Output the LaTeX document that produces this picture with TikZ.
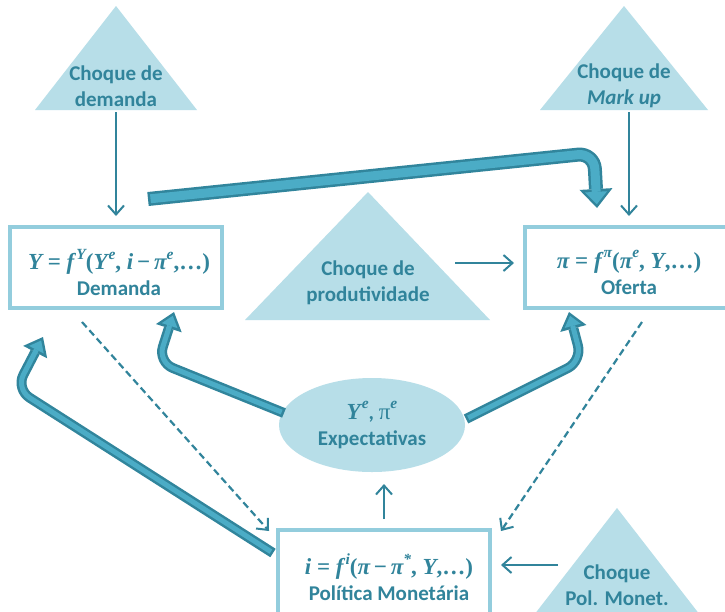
\documentclass[tikz,border=0pt]{standalone}
\usepackage{fontspec}
\setmainfont{Carlito}
\newfontfamily\mf{Liberation Serif}
\usetikzlibrary{arrows.meta,shapes.geometric,calc}
\definecolor{tri}{HTML}{B7DEE8}
\definecolor{txt}{HTML}{31849B}
\definecolor{boxb}{HTML}{93CDDD}
\definecolor{bigf}{HTML}{4BACC6}
\definecolor{bigd}{HTML}{31859C}
\newcommand\vi[1]{{\itshape #1}}
\newcommand\sy[1]{\raisebox{0.45em}{\fontsize{15.5}{16}\selectfont\itshape #1}}
\newcommand\fm{\mf\fontsize{23}{26}\selectfont}
\tikzset{
  lbl/.style={text=txt, font=\bfseries\fontsize{21}{26}\selectfont, align=center, inner sep=0pt},
  trishape/.style={fill=tri, draw=none},
  boxshape/.style={draw=boxb, line width=3.2pt, fill=white, inner sep=0pt},
  thinarrow/.style={draw=txt, line width=2pt, -{Straight Barb[length=9pt,width=16pt,line width=2pt]}},
  dasharrow/.style={thinarrow, line width=2.2pt, dash pattern=on 7pt off 4pt},
}
% fat arrow: #1 path, #2 shaft width, #3 head length, #4 head width, #5 inner head length, #6 inner head width, #7 tip offset
\newcommand\fatarrow[7]{%
  \draw[bigd, line width=#2, rounded corners=16pt, line cap=butt, line join=round,
        -{Triangle[length=#3,width=#4,line width=0pt 0]}] #1;
  \draw[bigf, line width=#2-5pt, rounded corners=16pt, line cap=butt, line join=round,
        shorten <=2.5pt, shorten >=#7,
        -{Triangle[length=#5,width=#6,line width=0pt 0]}] #1;
}
\begin{document}
\begin{tikzpicture}[x=1pt,y=-1pt]
\clip (0,0) rectangle (725,611);
\useasboundingbox (0,0) rectangle (725,611);
\fill[white] (0,0) rectangle (725,611);

% triangles
\path[trishape] (116,6) -- (197,110) -- (35,110) -- cycle;
\path[trishape] (624,6) -- (708,110) -- (540,110) -- cycle;
\path[trishape] (368,192) -- (490,320) -- (245,320) -- cycle;
\path[trishape] (617,508) -- (700,615) -- (534,615) -- cycle;
\path[fill=tri] (372,425) ellipse [x radius=93, y radius=47];

\node[lbl] (tdem) at (116,86) {Choque de\\demanda};
\node[lbl] (tmark) at (624,86) {Choque de\\\textit{Mark up}};
\node[lbl] (tprod) at (368,283) {Choque de\\produtividade};
\node[lbl] (tpol) at (617,585) {Choque\\Pol. Monet.};
\node[lbl] (texp) at (372,425) {{\fm\vi{Y}\kern1pt\sy{e}}, {\mdseries\fm π\sy{\bfseries e}}\\Expectativas};

% boxes
\node[boxshape, minimum width=212pt, minimum height=81pt] (dembox) at (116,267.5) {};
\node[boxshape, minimum width=212pt, minimum height=81pt] (ofbox) at (631,267.5) {};
\node[boxshape, minimum width=212pt, minimum height=90pt] (polbox) at (384,575) {};

\node[lbl] (dem) at (119,272.5) {{\fm\vi{Y} =\ \vi{f}\kern2pt\sy{Y}(\vi{Y}\kern1pt\sy{e}, \vi{i}\,−\,\vi{π}\sy{e},…)}\\Demanda};
\node[lbl] (of) at (629,272.5) {{\fm\vi{π} =\ \vi{f}\kern2pt\sy{π}(\vi{π}\sy{e}, \vi{Y},…)}\\Oferta};
\node[lbl] (pol) at (389,577.5) {{\fm\vi{i} =\ \vi{f}\kern2pt\sy{i}(\vi{π}\,−\,\vi{π}\sy{*}, \vi{Y},…)}\\Política Monetária};

% thin arrows
\coordinate (a1s) at (116,112); \coordinate (a1e) at (116,216);
\coordinate (a2s) at (629,112); \coordinate (a2e) at (629,216);
\coordinate (a3s) at (455,263); \coordinate (a3e) at (514,263);
\coordinate (a4s) at (384,519); \coordinate (a4e) at (384,484);
\coordinate (a5s) at (558,565); \coordinate (a5e) at (501,565);
\draw[thinarrow] (a1s) -- (a1e);
\draw[thinarrow] (a2s) -- (a2e);
\draw[thinarrow] (a3s) -- (a3e);
\draw[thinarrow] (a4s) -- (a4e);
\draw[thinarrow] (a5s) -- (a5e);

\coordinate (d1s) at (82,322); \coordinate (d1e) at (269,531);
\coordinate (d2s) at (642,322); \coordinate (d2e) at (501,531);
\draw[dasharrow] (d1s) -- (d1e);
\draw[dasharrow] (d2s) -- (d2e);

% fat arrows
\coordinate (f1s) at (148,199); \coordinate (f1m) at (594,153); \coordinate (f1e) at (597,208);
\fatarrow{(f1s) -- (f1m) -- (f1e)}{14pt}{19pt}{33pt}{12.4pt}{22pt}{3.8pt}
\coordinate (f2s) at (284,413); \coordinate (f2m) at (158,362); \coordinate (f2e) at (174,312);
\fatarrow{(f2s) -- (f2m) -- (f2e)}{10pt}{17pt}{27pt}{10.3pt}{16.5pt}{4pt}
\coordinate (f3s) at (466,419); \coordinate (f3m) at (582,361); \coordinate (f3e) at (569,312);
\fatarrow{(f3s) -- (f3m) -- (f3e)}{10pt}{17pt}{27pt}{10.3pt}{16.5pt}{4pt}
\coordinate (f4s) at (273,553); \coordinate (f4m) at (16,389); \coordinate (f4e) at (43,337);
\fatarrow{(f4s) -- (f4m) -- (f4e)}{10pt}{17pt}{27pt}{10.3pt}{16.5pt}{4pt}
\end{tikzpicture}
\end{document}
